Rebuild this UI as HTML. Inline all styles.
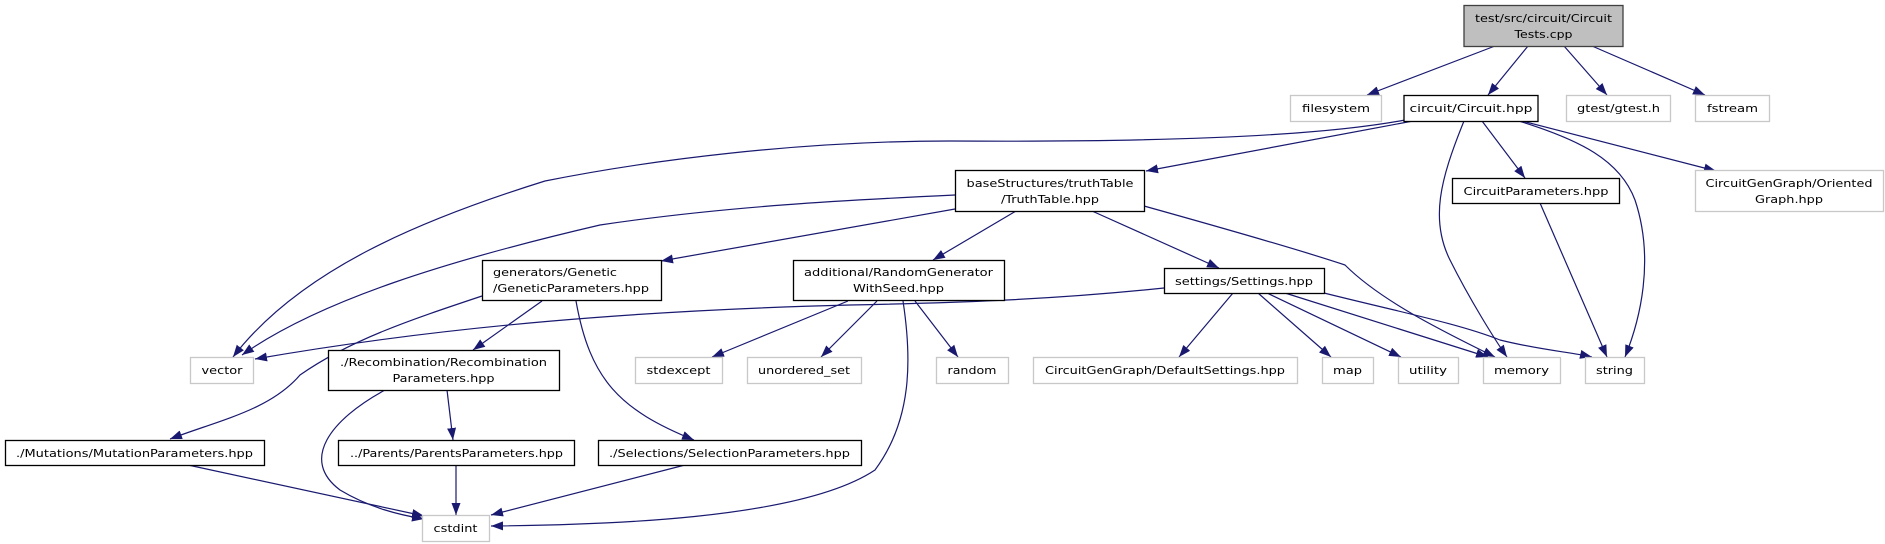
<!DOCTYPE html>
<html><head><meta charset="utf-8"><style>
html,body{margin:0;padding:0;background:#fff;}
svg{display:block;}
text{font-family:"DejaVu Sans","Liberation Sans",sans-serif;font-size:10.5px;fill:#000;}
</style></head><body>
<svg width="1885" height="544" viewBox="0 0 1885 544" xmlns="http://www.w3.org/2000/svg">
<defs>
<marker id="a" viewBox="0 0 12 9" refX="12" refY="4.5" markerWidth="12" markerHeight="9" markerUnits="userSpaceOnUse" orient="auto">
<path d="M0,0 L12,4.5 L0,9 z" fill="#191970"/>
</marker>
</defs>
<g fill="none" stroke="#191970" stroke-width="1.2" marker-end="url(#a)">
<path d="M1495,46 L1367,95"/>
<path d="M1528,46 L1488,95"/>
<path d="M1564,46 L1607,95"/>
<path d="M1592,46 L1705,95"/>
<path d="M1405,120 C1300,140 1100,142 950,141 C800,141 650,160 545,181 C420,220 300,270 233,357"/>
<path d="M1413,121 L1146,171"/>
<path d="M1464,121 C1440,180 1430,220 1450,260 C1470,300 1495,340 1507,357"/>
<path d="M1482,121 L1525,178"/>
<path d="M1519,121 C1580,140 1620,160 1635,200 C1655,260 1640,320 1625,357"/>
<path d="M1522,121 L1716,171"/>
<path d="M955,195 C850,200 727,206 600,225 C450,260 320,300 242,355"/>
<path d="M955,209 L661,261"/>
<path d="M1016,211 L933,260"/>
<path d="M1092,211 L1219,268"/>
<path d="M1144,206 C1230,230 1300,250 1345,265 C1380,300 1440,330 1495,357"/>
<path d="M482,296 C410,320 350,340 300,375 C270,410 220,420 170,439"/>
<path d="M542,301 L473,350"/>
<path d="M576,301 C590,380 620,410 694,440"/>
<path d="M848,301 L712,357"/>
<path d="M877,301 L821,357"/>
<path d="M915,301 L958,357"/>
<path d="M903,301 C912,360 912,420 875,470 C800,520 600,525 491,526"/>
<path d="M1164,288 C1050,300 950,303 850,305 C650,310 450,325 255,359"/>
<path d="M1233,293 L1179,357"/>
<path d="M1258,293 L1331,357"/>
<path d="M1267,293 L1401,357"/>
<path d="M1285,293 L1488,357"/>
<path d="M1324,293 C1400,312 1460,324 1500,340 C1540,350 1570,352 1592,357"/>
<path d="M1540,203 L1607,357"/>
<path d="M385,390 C330,420 300,460 340,490 C370,508 400,515 424,519"/>
<path d="M447,390 L453,440"/>
<path d="M188,465 L424,516"/>
<path d="M456,465 L456,515"/>
<path d="M685,465 L491,515"/>
</g>
<g stroke-width="1.3">
<rect x="1464" y="5.5" width="159" height="41" fill="#bfbfbf" stroke="#404040"/>
<rect x="1290.5" y="95.5" width="91" height="26" fill="#fff" stroke="#c8c8c8"/>
<rect x="1404" y="95.5" width="134" height="26" fill="#fff" stroke="#000"/>
<rect x="1566.5" y="95.5" width="104" height="26" fill="#fff" stroke="#c8c8c8"/>
<rect x="1695.5" y="95.5" width="74" height="26" fill="#fff" stroke="#c8c8c8"/>
<rect x="955.5" y="170.5" width="189" height="41" fill="#fff" stroke="#000"/>
<rect x="1452.5" y="178.5" width="167" height="25" fill="#fff" stroke="#000"/>
<rect x="1695.5" y="170.5" width="188" height="41" fill="#fff" stroke="#c8c8c8"/>
<rect x="482.5" y="260.5" width="179" height="40" fill="#fff" stroke="#000"/>
<rect x="793.5" y="260.5" width="211" height="40" fill="#fff" stroke="#000"/>
<rect x="1164.5" y="268.5" width="160" height="25" fill="#fff" stroke="#000"/>
<rect x="190.5" y="357.5" width="63" height="26" fill="#fff" stroke="#c8c8c8"/>
<rect x="635.5" y="357.5" width="87" height="26" fill="#fff" stroke="#c8c8c8"/>
<rect x="747.5" y="357.5" width="114" height="26" fill="#fff" stroke="#c8c8c8"/>
<rect x="936.5" y="357.5" width="72" height="26" fill="#fff" stroke="#c8c8c8"/>
<rect x="1033.5" y="357.5" width="264" height="26" fill="#fff" stroke="#c8c8c8"/>
<rect x="1322.5" y="357.5" width="51" height="26" fill="#fff" stroke="#c8c8c8"/>
<rect x="1398.5" y="357.5" width="60" height="26" fill="#fff" stroke="#c8c8c8"/>
<rect x="1483.5" y="357.5" width="77" height="26" fill="#fff" stroke="#c8c8c8"/>
<rect x="1585.5" y="357.5" width="59" height="26" fill="#fff" stroke="#c8c8c8"/>
<rect x="328.5" y="350.5" width="231" height="40" fill="#fff" stroke="#000"/>
<rect x="5.5" y="440.5" width="259" height="25" fill="#fff" stroke="#000"/>
<rect x="338.5" y="440.5" width="236" height="25" fill="#fff" stroke="#000"/>
<rect x="598.5" y="440.5" width="263" height="25" fill="#fff" stroke="#000"/>
<rect x="422.5" y="515.5" width="67" height="26" fill="#fff" stroke="#c8c8c8"/>
</g>
<g text-anchor="middle">
<text x="1543.5" y="22" textLength="137" lengthAdjust="spacingAndGlyphs">test/src/circuit/Circuit</text>
<text x="1543.5" y="38" textLength="58" lengthAdjust="spacingAndGlyphs">Tests.cpp</text>
<text x="1336" y="112" textLength="68" lengthAdjust="spacingAndGlyphs">filesystem</text>
<text x="1471" y="112" textLength="123" lengthAdjust="spacingAndGlyphs">circuit/Circuit.hpp</text>
<text x="1618.5" y="112" textLength="83" lengthAdjust="spacingAndGlyphs">gtest/gtest.h</text>
<text x="1732.5" y="112" textLength="51" lengthAdjust="spacingAndGlyphs">fstream</text>
<text x="1050" y="187" textLength="167" lengthAdjust="spacingAndGlyphs">baseStructures/truthTable</text>
<text x="1050" y="203" textLength="98" lengthAdjust="spacingAndGlyphs">/TruthTable.hpp</text>
<text x="1536" y="195" textLength="145" lengthAdjust="spacingAndGlyphs">CircuitParameters.hpp</text>
<text x="1789" y="187" textLength="167" lengthAdjust="spacingAndGlyphs">CircuitGenGraph/Oriented</text>
<text x="1789" y="203" textLength="68" lengthAdjust="spacingAndGlyphs">Graph.hpp</text>
<text x="493" y="276" text-anchor="start" textLength="124" lengthAdjust="spacingAndGlyphs">generators/Genetic</text>
<text x="493" y="292" text-anchor="start" textLength="156" lengthAdjust="spacingAndGlyphs">/GeneticParameters.hpp</text>
<text x="898.5" y="276" textLength="189" lengthAdjust="spacingAndGlyphs">additional/RandomGenerator</text>
<text x="898.5" y="292" textLength="91" lengthAdjust="spacingAndGlyphs">WithSeed.hpp</text>
<text x="1244" y="285" textLength="138" lengthAdjust="spacingAndGlyphs">settings/Settings.hpp</text>
<text x="222" y="374" textLength="41" lengthAdjust="spacingAndGlyphs">vector</text>
<text x="678.5" y="374" textLength="64" lengthAdjust="spacingAndGlyphs">stdexcept</text>
<text x="804" y="374" textLength="92" lengthAdjust="spacingAndGlyphs">unordered_set</text>
<text x="972" y="374" textLength="49" lengthAdjust="spacingAndGlyphs">random</text>
<text x="1165" y="374" textLength="240" lengthAdjust="spacingAndGlyphs">CircuitGenGraph/DefaultSettings.hpp</text>
<text x="1347.5" y="374" textLength="29" lengthAdjust="spacingAndGlyphs">map</text>
<text x="1428" y="374" textLength="38" lengthAdjust="spacingAndGlyphs">utility</text>
<text x="1521.5" y="374" textLength="55" lengthAdjust="spacingAndGlyphs">memory</text>
<text x="1614.5" y="374" textLength="37" lengthAdjust="spacingAndGlyphs">string</text>
<text x="443.5" y="366" textLength="207" lengthAdjust="spacingAndGlyphs">./Recombination/Recombination</text>
<text x="443.5" y="382" textLength="102" lengthAdjust="spacingAndGlyphs">Parameters.hpp</text>
<text x="134.5" y="457" textLength="237" lengthAdjust="spacingAndGlyphs">./Mutations/MutationParameters.hpp</text>
<text x="456.5" y="457" textLength="213" lengthAdjust="spacingAndGlyphs">../Parents/ParentsParameters.hpp</text>
<text x="729.5" y="457" textLength="241" lengthAdjust="spacingAndGlyphs">./Selections/SelectionParameters.hpp</text>
<text x="455.5" y="532" textLength="44" lengthAdjust="spacingAndGlyphs">cstdint</text>
</g>
</svg>
</body></html>
